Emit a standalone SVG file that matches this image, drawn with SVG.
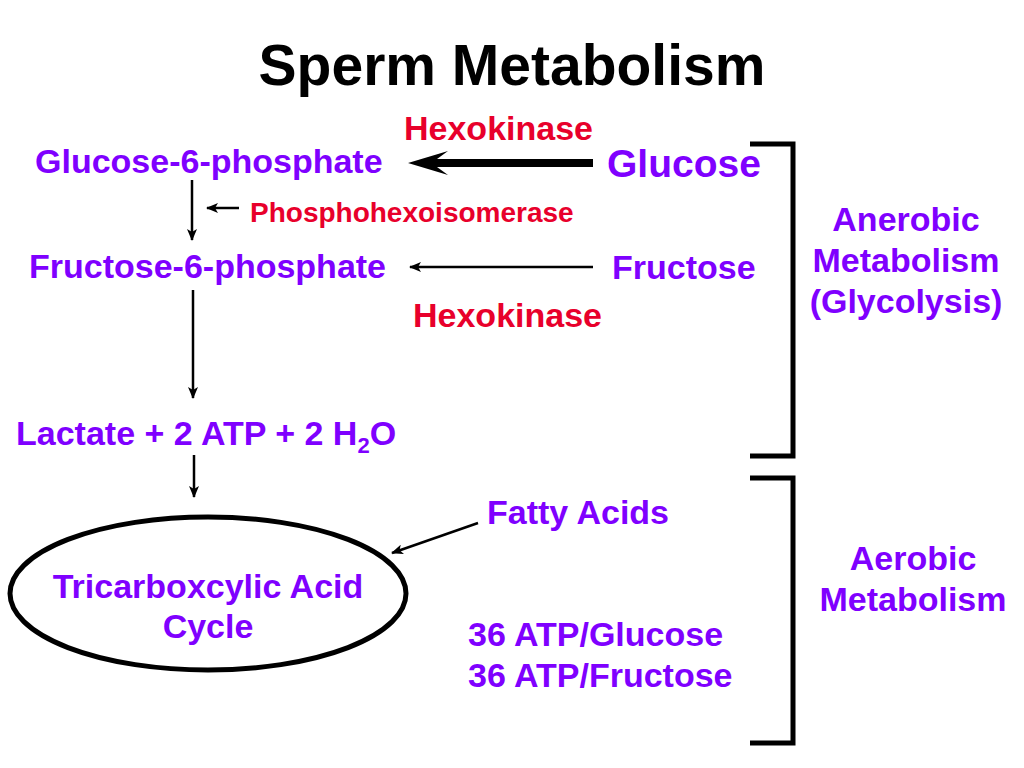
<svg xmlns="http://www.w3.org/2000/svg" width="1024" height="768" viewBox="0 0 1024 768">
<defs>
<style>
text{font-family:"Liberation Sans",Arial,sans-serif;font-weight:bold}
.p{fill:#7F00FF;font-size:34px}
.r{fill:#E8002B;font-size:34px}
.c{text-anchor:middle}
.ln{stroke:#000;stroke-width:2.5;fill:none}
.br{stroke:#000;stroke-width:5;fill:none;stroke-linejoin:miter}
</style>
<marker id="ah" viewBox="0 0 12 10" refX="11" refY="5" markerWidth="12" markerHeight="10" markerUnits="userSpaceOnUse" orient="auto">
<path d="M0,0 L12,5 L0,10 L3,5 Z" fill="#000"/>
</marker>
</defs>
<rect width="1024" height="768" fill="#fff"/>
<text x="512" y="85" class="c" style="font-size:57px;fill:#000">Sperm Metabolism</text>

<g id="hexokinase1"><text x="404" y="140" class="r">Hexokinase</text></g>
<g id="g6p"><text x="35" y="173" class="p">Glucose-6-phosphate</text></g>
<g id="glucose"><text x="607" y="177" class="p" style="font-size:39px">Glucose</text></g>
<g id="phi"><text x="250" y="222" class="r" style="font-size:28px">Phosphohexoisomerase</text></g>
<g id="f6p"><text x="29" y="278" class="p">Fructose-6-phosphate</text></g>
<g id="fructose"><text x="612" y="279" class="p">Fructose</text></g>
<g id="hexokinase2"><text x="413" y="327" class="r">Hexokinase</text></g>
<g id="lactate"><text x="16" y="445" class="p">Lactate + 2 ATP + 2 H<tspan style="font-size:22px" dy="8">2</tspan><tspan dy="-8">O</tspan></text></g>
<g id="fatty"><text x="487" y="524" class="p">Fatty Acids</text></g>
<g id="tca">
<ellipse cx="208" cy="593.5" rx="198" ry="76.5" fill="none" stroke="#000" stroke-width="5"/>
<text x="208" y="598" class="p c">Tricarboxcylic Acid</text>
<text x="208" y="638" class="p c">Cycle</text>
</g>
<g id="atp"><text x="468" y="646" class="p">36 ATP/Glucose</text><text x="468" y="687" class="p">36 ATP/Fructose</text></g>
<g id="anerobic"><text x="906" y="231" class="p c">Anerobic</text><text x="906" y="272" class="p c">Metabolism</text><text x="906" y="313" class="p c">(Glycolysis)</text></g>
<g id="aerobic"><text x="913" y="570" class="p c">Aerobic</text><text x="913" y="611" class="p c">Metabolism</text></g>

<g id="connectors">
<path d="M408,163 L448,151 L437,159 L593,159 L593,167 L437,167 L448,175 Z" fill="#000"/>
<line x1="593" y1="267" x2="410" y2="267" class="ln" marker-end="url(#ah)"/>
<line x1="239" y1="208" x2="207" y2="208" class="ln" stroke-width="2" marker-end="url(#ah)"/>
<line x1="192" y1="180" x2="192" y2="240" class="ln" marker-end="url(#ah)"/>
<line x1="193" y1="290" x2="193" y2="398" class="ln" marker-end="url(#ah)"/>
<line x1="194" y1="455" x2="194" y2="497" class="ln" marker-end="url(#ah)"/>
<line x1="478" y1="523" x2="392" y2="553" class="ln" marker-end="url(#ah)"/>
<path d="M750,144 H793 V456 H750" class="br"/>
<path d="M750,478 H793 V743 H750" class="br"/>
</g>
</svg>
